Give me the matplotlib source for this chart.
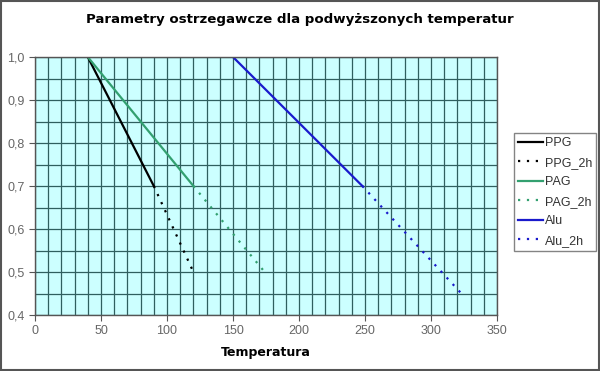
import matplotlib
matplotlib.use('Agg')
import matplotlib.pyplot as plt
from matplotlib.ticker import MultipleLocator, FuncFormatter

# data
ppg_x = [40, 90]
ppg_y = [1.0, 0.7]
ppg2h_x = [90, 120]
ppg2h_y = [0.7, 0.5]
pag_x = [40, 120]
pag_y = [1.0, 0.7]
pag2h_x = [120, 174]
pag2h_y = [0.7, 0.5]
alu_x = [150, 248]
alu_y = [1.0, 0.7]
alu2h_x = [248, 323]
alu2h_y = [0.7, 0.45]

fig = plt.figure(figsize=(6.0, 3.71), dpi=100)
ax = fig.add_axes([35/600, 1-315/371, 462/600, 258/371])
ax.set_facecolor('#ccffff')

black = '#000000'
green = '#33a070'
blue = '#1a1acc'

ax.plot(ppg_x, ppg_y, color=black, lw=1.6, label='PPG')
ax.plot(ppg2h_x, ppg2h_y, color=black, lw=1.6, ls=(0, (1, 3)), label='PPG_2h')
ax.plot(pag_x, pag_y, color=green, lw=1.6, label='PAG')
ax.plot(pag2h_x, pag2h_y, color=green, lw=1.6, ls=(0, (1, 3)), label='PAG_2h')
ax.plot(alu_x, alu_y, color=blue, lw=1.6, label='Alu')
ax.plot(alu2h_x, alu2h_y, color=blue, lw=1.6, ls=(0, (1, 3)), label='Alu_2h')

ax.set_xlim(0, 350)
ax.set_ylim(0.4, 1.0)
ax.xaxis.set_major_locator(MultipleLocator(50))
ax.xaxis.set_minor_locator(MultipleLocator(10))
ax.yaxis.set_major_locator(MultipleLocator(0.1))
ax.yaxis.set_minor_locator(MultipleLocator(0.05))
ax.yaxis.set_major_formatter(FuncFormatter(lambda v, p: ('%.1f' % v).replace('.', ',')))
ax.grid(which='both', color='#2f5f5f', lw=0.9)
ax.set_axisbelow(True)
ax.tick_params(which='major', direction='out', length=4, color='#555555',
               labelsize=9, labelcolor='#666666')
ax.tick_params(which='minor', length=0)
for lab in ax.get_xticklabels() + ax.get_yticklabels():
    lab.set_family('Liberation Sans')
for s in ax.spines.values():
    s.set_color('#555555')
    s.set_linewidth(1.0)

ax.set_xlabel('Temperatura', fontsize=9, fontweight='bold', family='DejaVu Sans', labelpad=6)
fig.text(0.5, 0.947, 'Parametry ostrzegawcze dla podwyższonych temperatur',
         ha='center', va='center', fontsize=9.6, fontweight='bold', family='DejaVu Sans')

leg = fig.legend(loc='upper left', bbox_to_anchor=(514/600, 1-133/371), fancybox=False,
                 edgecolor='#666666', fontsize=9, handlelength=2.0, handletextpad=0.1,
                 borderpad=0.35, labelspacing=0.6, borderaxespad=0)
for t in leg.get_texts():
    t.set_family('Liberation Sans')
    t.set_color('#333333')

# figure border
fig.patches.append(plt.Rectangle((0.002, 0.003), 0.996, 0.994, transform=fig.transFigure,
                                 fill=False, edgecolor='#555555', lw=1.5))

fig.savefig('out.png', dpi=100)
